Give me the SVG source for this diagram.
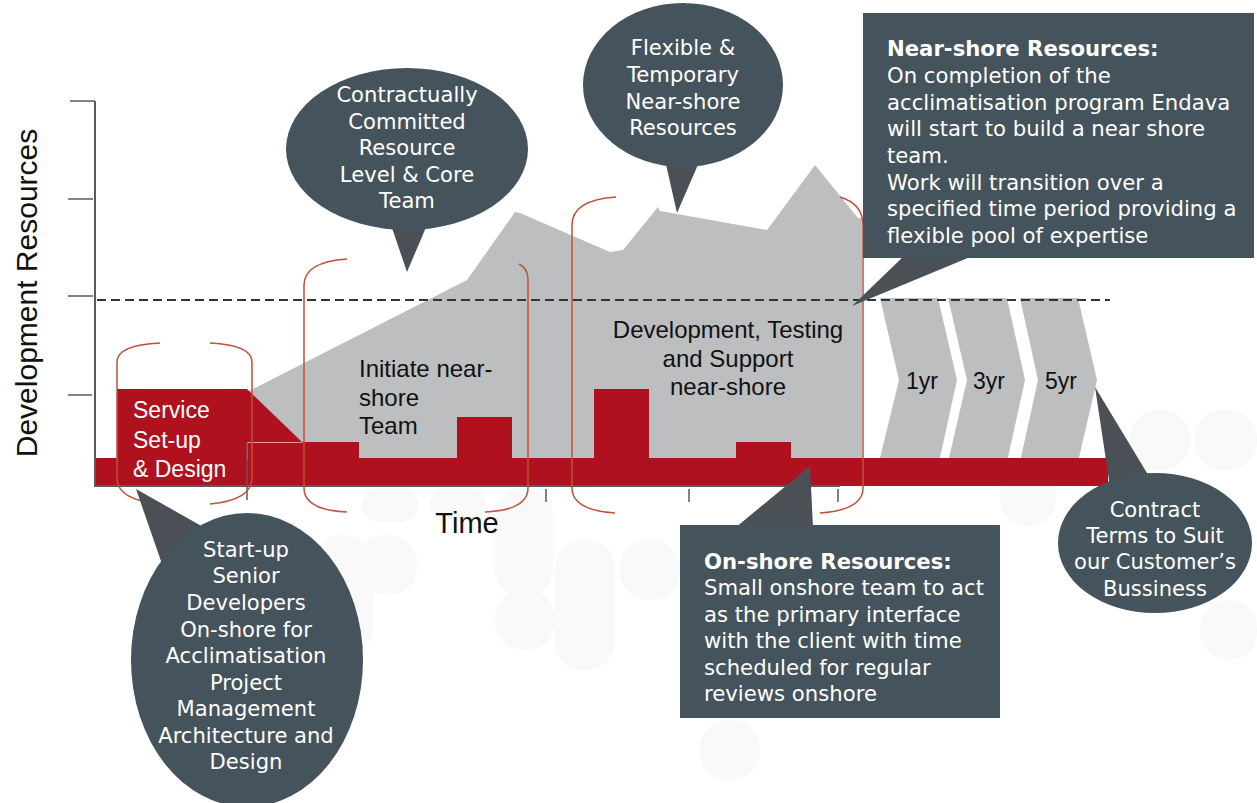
<svg xmlns="http://www.w3.org/2000/svg" width="1257" height="803" viewBox="0 0 1257 803">
<style>
.bg{fill:#f9f9f9}
.gray{fill:#bdbec0}
.red{fill:#b0111f}
.axis{stroke:#5a5a5a;stroke-width:2;fill:none}
.tick{stroke:#5a5a5a;stroke-width:1.5;fill:none}
.dash{stroke:#333;stroke-width:2;stroke-dasharray:9 5;fill:none}
.brk{stroke:#c4503a;stroke-width:1.5;fill:none}
.bubble{fill:#45535d}
.tail{fill:#4a5056}
.ct{font-family:"DejaVu Sans","Verdana",sans-serif;font-size:21.1px;fill:#fff;text-anchor:middle}
.bt{font-family:"DejaVu Sans","Verdana",sans-serif;font-size:21.2px;fill:#fff}
.bt .b{font-weight:bold}
.lbl{font-family:"Liberation Sans",Arial,sans-serif;font-size:24px;fill:#111}
.wl{font-family:"Liberation Sans",Arial,sans-serif;font-size:23px;fill:#fff}
</style>

<g id="background">
<rect class="bg" x="362" y="488" width="56" height="34" rx="17"/>
<rect class="bg" x="430" y="488" width="56" height="34" rx="17"/>
<rect class="bg" x="495" y="488" width="58" height="110" rx="28"/>
<rect class="bg" x="313" y="535" width="60" height="120" rx="28"/>
<rect class="bg" x="357" y="535" width="60" height="60" rx="28"/>
<rect class="bg" x="495" y="590" width="60" height="60" rx="28"/>
<rect class="bg" x="555" y="540" width="60" height="130" rx="28"/>
<rect class="bg" x="620" y="540" width="60" height="60" rx="28"/>
<rect class="bg" x="700" y="720" width="60" height="60" rx="28"/>
<rect class="bg" x="1000" y="470" width="56" height="56" rx="28"/>
<rect class="bg" x="1130" y="410" width="60" height="60" rx="28"/>
<rect class="bg" x="1195" y="410" width="62" height="60" rx="28"/>
<rect class="bg" x="1200" y="600" width="57" height="60" rx="28"/>
</g>

<g id="chart">
<polygon class="gray" points="247,392 467,280 515,212 520,213 610,252 623,250 658,207 660,211 767,230 815,165 858,218 862,218 862,460 247,460"/>
<g id="chevrons" class="gray">
<polygon points="880,298 938,298 957,380 939,462 879,462 899,380"/>
<polygon points="948,298 1007,298 1025,380 1007,462 948,462 967,380"/>
<polygon points="1020,298 1078,298 1097,380 1078,462 1020,462 1038,380"/>
</g>
<g id="red-bars" class="red">
<rect x="95" y="458" width="1013" height="28"/>
<polygon points="117,389 247,389 302,442 302,460 117,460"/>
<rect x="247" y="442" width="112" height="18"/>
<rect x="457" y="417" width="55" height="43"/>
<rect x="594" y="389" width="55" height="71"/>
<rect x="736" y="442" width="55" height="18"/>
</g>
<path d="M247.5,460 V442.5 H302" stroke="#d9a0a5" stroke-width="1" fill="none"/>
<line class="dash" x1="97" y1="300" x2="1110" y2="300"/>
<g id="axes">
<line class="axis" x1="95" y1="101" x2="95" y2="487"/>
<line class="axis" x1="95" y1="486" x2="840" y2="486"/>
<line class="tick" x1="70" y1="101" x2="95" y2="101"/>
<line class="tick" x1="68" y1="199" x2="93" y2="199"/>
<line class="tick" x1="68" y1="296" x2="93" y2="296"/>
<line class="tick" x1="68" y1="395" x2="92" y2="395"/>
<line class="tick" x1="247" y1="443" x2="247" y2="500"/>
<line class="tick" x1="546" y1="489" x2="546" y2="502"/>
<line class="tick" x1="689" y1="489" x2="689" y2="502"/>
<line class="tick" x1="838" y1="489" x2="838" y2="502"/>
</g>
<g id="brackets">
<path class="brk" d="M160,343 Q117,345 117,362 L117,478 Q117,500 160,504"/>
<path class="brk" d="M210,343 Q252,345 252,362 L252,478 Q252,500 210,504"/>
<path class="brk" d="M347,259 Q304,262 304,285 L304,488 Q304,510 347,512"/>
<path class="brk" d="M519,264 Q528,268 528,280 L528,488 Q528,510 485,512"/>
<path class="brk" d="M616,197 Q572,200 572,225 L572,488 Q572,510 615,513"/>
<path class="brk" d="M840,197 Q863,204 863,225 L863,488 Q863,510 820,513"/>
</g>
<text class="lbl" style="font-size:30px" transform="translate(37,293) rotate(-90)" text-anchor="middle">Development Resources</text>
<text class="lbl" style="font-size:29px" x="467" y="533" text-anchor="middle">Time</text>
<text class="wl" x="133" y="418">Service</text>
<text class="wl" x="133" y="448">Set-up</text>
<text class="wl" x="133" y="477">&amp; Design</text>
<text class="lbl" x="359" y="377">Initiate near-</text>
<text class="lbl" x="359" y="406">shore</text>
<text class="lbl" x="359" y="434">Team</text>
<text class="lbl" x="728" y="338" text-anchor="middle">Development, Testing</text>
<text class="lbl" x="728" y="367" text-anchor="middle">and Support</text>
<text class="lbl" x="728" y="395" text-anchor="middle">near-shore</text>
<text class="lbl" style="font-size:23px" x="922" y="389" text-anchor="middle">1yr</text>
<text class="lbl" style="font-size:23px" x="989" y="389" text-anchor="middle">3yr</text>
<text class="lbl" style="font-size:23px" x="1061" y="389" text-anchor="middle">5yr</text>
</g>

<g id="connectors">
<polygon class="tail" points="391,225 427,225 407,272"/>
<polygon class="tail" points="665,160 700,160 677,213"/>
<polygon class="tail" points="905,255 975,255 852,306"/>
<polygon class="tail" points="136,489 162,564 205,528"/>
<polygon class="tail" points="735,528 810,466 813,528"/>
<polygon class="tail" points="1095,387 1112,500 1150,478"/>
</g>

<g id="callout-committed">
<ellipse class="bubble" cx="407" cy="149" rx="121" ry="81"/>
<text class="ct" x="407" y="102">Contractually</text>
<text class="ct" x="407" y="129">Committed</text>
<text class="ct" x="407" y="155">Resource</text>
<text class="ct" x="407" y="182">Level &amp; Core</text>
<text class="ct" x="407" y="208">Team</text>
</g>

<g id="callout-flexible">
<ellipse class="bubble" cx="683" cy="85" rx="100" ry="82"/>
<text class="ct" x="683" y="55">Flexible &amp;</text>
<text class="ct" x="683" y="82">Temporary</text>
<text class="ct" x="683" y="109">Near-shore</text>
<text class="ct" x="683" y="135">Resources</text>
</g>

<g id="callout-nearshore">
<rect class="bubble" x="863" y="13" width="391" height="245"/>
<text class="bt" x="887"><tspan class="b" x="887" y="56">Near-shore Resources:</tspan><tspan x="887" y="83">On completion of the</tspan><tspan x="887" y="110">acclimatisation program Endava</tspan><tspan x="887" y="136">will start to build a near shore</tspan><tspan x="887" y="163">team.</tspan><tspan x="887" y="190">Work will transition over a</tspan><tspan x="887" y="216">specified time period providing a</tspan><tspan x="887" y="243">flexible pool of expertise</tspan></text>
</g>

<g id="callout-startup">
<ellipse class="bubble" cx="247" cy="660" rx="116" ry="147"/>
<text class="ct" x="246" y="557">Start-up</text>
<text class="ct" x="246" y="583">Senior</text>
<text class="ct" x="246" y="610">Developers</text>
<text class="ct" x="246" y="637">On-shore for</text>
<text class="ct" x="246" y="663">Acclimatisation</text>
<text class="ct" x="246" y="690">Project</text>
<text class="ct" x="246" y="716">Management</text>
<text class="ct" x="246" y="743">Architecture and</text>
<text class="ct" x="246" y="769">Design</text>
</g>

<g id="callout-onshore">
<rect class="bubble" x="680" y="525" width="320" height="193"/>
<text class="bt" x="704"><tspan class="b" x="704" y="569">On-shore Resources:</tspan><tspan x="704" y="595">Small onshore team to act</tspan><tspan x="704" y="622">as the primary interface</tspan><tspan x="704" y="648">with the client with time</tspan><tspan x="704" y="675">scheduled for regular</tspan><tspan x="704" y="701">reviews onshore</tspan></text>
</g>

<g id="callout-contract">
<ellipse class="bubble" cx="1155" cy="543" rx="97" ry="70"/>
<text class="ct" x="1155" y="517">Contract</text>
<text class="ct" x="1155" y="543">Terms to Suit</text>
<text class="ct" x="1155" y="569">our Customer’s</text>
<text class="ct" x="1155" y="596">Bussiness</text>
</g>
</svg>
